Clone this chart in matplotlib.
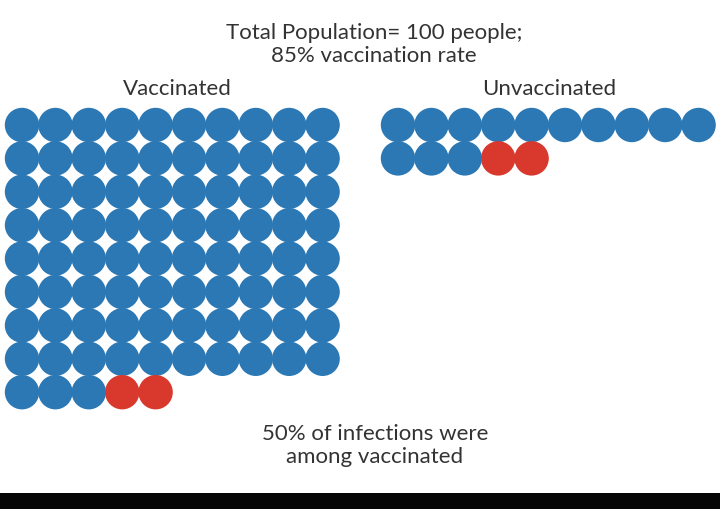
import matplotlib
matplotlib.use("Agg")
import matplotlib.pyplot as plt
from matplotlib.patches import Circle, Rectangle

# ---- data ----
groups = ["Vaccinated", "Unvaccinated"]
group_counts = [85, 15]
infected_counts = [2, 2]
title_lines = ["Total Population= 100 people;", "85% vaccination rate"]
footer_lines = ["50% of infections were", "among vaccinated"]

# ---- style / layout ----
BLUE = "#2b78b4"
RED = "#d8392c"
TEXT = "#333333"
COLS = 10
STEP = 33.4
RADIUS = 17.2
origins = [(22, 125), (398, 125)]
label_x = [177, 549]

W, H = 720, 509
fig = plt.figure(figsize=(W / 100, H / 100), dpi=100)
ax = fig.add_axes([0, 0, 1, 1])
ax.set_xlim(0, W)
ax.set_ylim(H, 0)
ax.axis("off")
plt.rcParams["font.family"] = ["Lato", "DejaVu Sans"]

for (ox, oy), n, inf in zip(origins, group_counts, infected_counts):
    for i in range(n):
        r, c = divmod(i, COLS)
        color = RED if i >= n - inf else BLUE
        ax.add_patch(Circle((ox + c * STEP, oy + r * STEP), RADIUS,
                            facecolor=color, edgecolor="none"))

FS = 16
for lx, g in zip(label_x, groups):
    ax.text(lx, 89, g, ha="center", va="center", fontsize=FS, color=TEXT)

for k, t in enumerate(title_lines):
    ax.text(374, 33 + k * 23, t, ha="center", va="center", fontsize=FS, color=TEXT)
for k, t in enumerate(footer_lines):
    ax.text(375, 434 + k * 23, t, ha="center", va="center", fontsize=FS, color=TEXT)

ax.add_patch(Rectangle((0, 493), W, H - 493, facecolor="#050505", edgecolor="none"))

fig.savefig("out.png", dpi=100)
